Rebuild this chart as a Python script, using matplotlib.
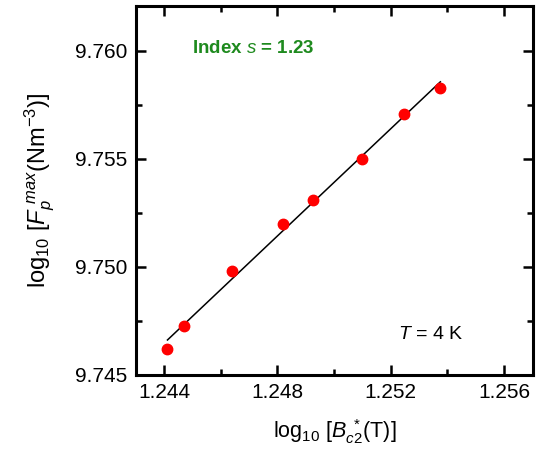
import numpy as np
import matplotlib
matplotlib.use('Agg')
import matplotlib.pyplot as plt
from matplotlib.ticker import MultipleLocator

plt.rcParams['font.family'] = ['Liberation Sans', 'DejaVu Sans']
plt.rcParams['mathtext.fontset'] = 'custom'
plt.rcParams['mathtext.rm'] = 'Liberation Sans'
plt.rcParams['mathtext.it'] = 'Liberation Sans:italic'
plt.rcParams['mathtext.bf'] = 'Liberation Sans:bold'

# log10 Bc2* (T) and log10 Fp^max (N m^-3) at T = 4 K
log_bc2 = [1.24412, 1.24470, 1.24640, 1.24821, 1.24924, 1.25097, 1.25248, 1.25375]
log_fp = [9.74622, 9.74725, 9.74981, 9.75200, 9.75309, 9.75500, 9.75710, 9.75829]
xticks = [1.244, 1.248, 1.252, 1.256]
yticks = [9.745, 9.750, 9.755, 9.760]

fig = plt.figure(figsize=(5.43, 4.5), dpi=100)
ax = fig.add_axes([0.2505, 0.1667, 0.7311, 0.8200])

# linear fit -> pinning index
p = np.polyfit(log_bc2, log_fp, 1)
xf = np.array([log_bc2[0], log_bc2[-1]])
ax.plot(xf, np.polyval(p, xf), color='black', lw=1.1, zorder=2)
ax.plot(log_bc2, log_fp, 'o', color='red', ms=7.5, mec='red', zorder=3)

ax.set_xlim(1.24301, 1.25702)
ax.set_ylim(9.745, 9.76208)
ax.set_xticks(xticks)
ax.set_yticks(yticks)
ax.xaxis.set_minor_locator(MultipleLocator(0.002))
ax.yaxis.set_minor_locator(MultipleLocator(0.0025))
ax.set_xticklabels(['%.3f' % v for v in xticks])
ax.set_yticklabels(['%.3f' % v for v in yticks])

for s in ax.spines.values():
    s.set_linewidth(2.2)
ax.tick_params(which='both', direction='in', top=True, right=True, width=1.8, labelsize=15)
ax.tick_params(which='major', length=7, pad=6)
ax.tick_params(which='minor', length=4)

ax.set_xlabel(r'log$_{10}$ [$B_{c2}^{\ *}$(T)]', fontsize=15.5, labelpad=11)
ax.set_ylabel(r'log$_{10}$ [$F_p^{\ max}$(Nm$^{-3}$)]', fontsize=17, labelpad=13)

ax.text(0.14, 0.885, r'Index $s$ = 1.23', transform=ax.transAxes, fontsize=13.5,
        fontweight='bold', color='#1e8a1e',
        va='center', ha='left')
ax.text(0.66, 0.11, r'$T$ = 4 K', transform=ax.transAxes, fontsize=14,
        va='center', ha='left')

fig.savefig('out.png', dpi=100)
